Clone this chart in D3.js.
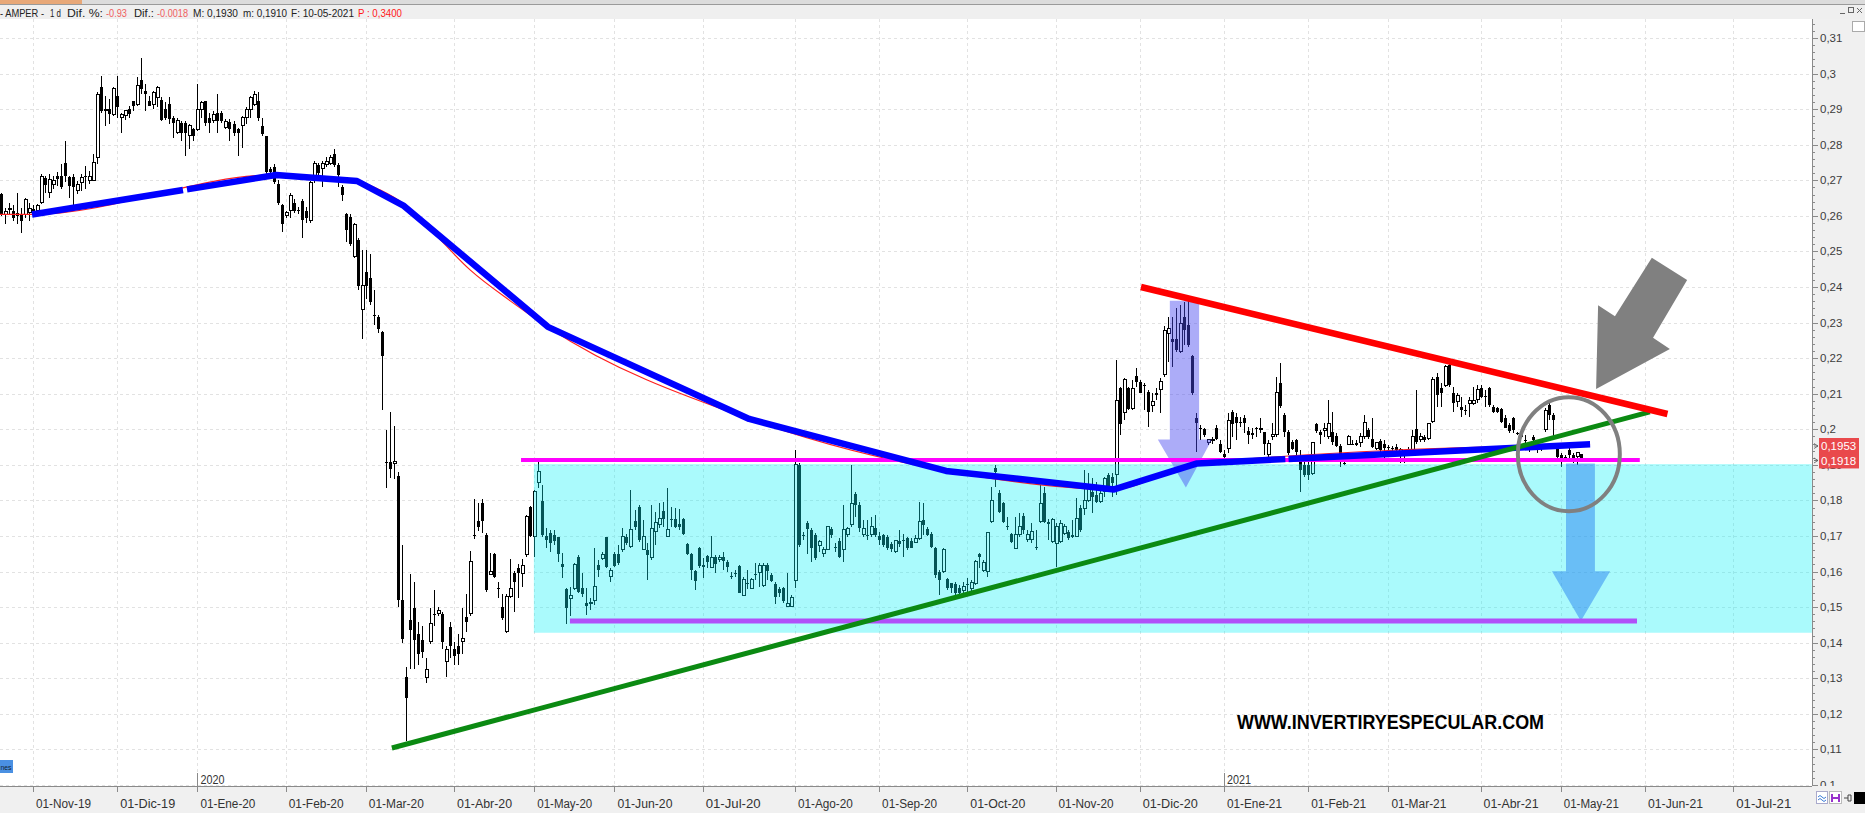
<!DOCTYPE html>
<html><head><meta charset="utf-8">
<script src="https://cdn.jsdelivr.net/npm/d3@7/dist/d3.min.js"></script>
<style>
html,body{margin:0;padding:0;background:#fff;overflow:hidden}
svg{display:block}
</style></head><body>
<svg id="c" width="1865" height="813"></svg>
<script>
// ---------------- DATA ----------------
// trading-day index of the first candle (index 0 = 01-Nov-2019)
const startIndex = -8;
// daily candles [open, high, low, close] for AMPER, one row per trading day
const ohlc = [
[.2661,.2665,.2600,.2605],[.2603,.2622,.2576,.2612],[.2620,.2637,.2605,.2622],[.2614,.2630,.2586,.2595],
[.2609,.2665,.2576,.2600],[.2605,.2622,.2553,.2586],[.2605,.2651,.2595,.2646],[.2610,.2637,.2586,.2620],
[.2620,.2630,.2600,.2615],[.2616,.2632,.2605,.2628],[.2637,.2717,.2632,.2712],[.2706,.2712,.2665,.2686],
[.2665,.2717,.2651,.2703],[.2689,.2712,.2675,.2698],[.2712,.2722,.2684,.2703],[.2712,.2745,.2675,.2680],
[.2750,.2811,.2694,.2712],[.2708,.2712,.2651,.2684],[.2708,.2717,.2628,.2680],[.2670,.2698,.2661,.2689],
[.2694,.2717,.2670,.2708],[.2712,.2740,.2675,.2712],[.2698,.2727,.2689,.2712],[.2698,.2773,.2698,.2750],
[.2764,.2947,.2745,.2942],[.2963,.2994,.2890,.2895],[.2895,.2937,.2853,.2900],[.2900,.2928,.2857,.2886],
[.2886,.2961,.2881,.2958],[.2937,.2994,.2876,.2905],[.2876,.2890,.2834,.2886],[.2881,.2895,.2870,.2895],
[.2900,.2910,.2876,.2886],[.2923,.2923,.2895,.2909],[.2914,.2989,.2909,.2966],[.2981,.3043,.2942,.2956],
[.2952,.2970,.2895,.2942],[.2923,.2937,.2909,.2909],[.2914,.2951,.2900,.2947],[.2933,.2966,.2905,.2961],
[.2925,.2933,.2867,.2869],[.2900,.2920,.2870,.2876],[.2914,.2933,.2857,.2872],[.2876,.2881,.2820,.2862],
[.2834,.2876,.2830,.2867],[.2862,.2867,.2811,.2834],[.2862,.2867,.2769,.2834],[.2825,.2857,.2787,.2853],
[.2844,.2848,.2811,.2825],[.2844,.2970,.2839,.2900],[.2900,.2923,.2876,.2918],[.2923,.2923,.2853,.2860],
[.2876,.2890,.2834,.2862],[.2867,.2895,.2862,.2886],[.2890,.2942,.2834,.2867],[.2890,.2895,.2862,.2867],
[.2848,.2872,.2844,.2865],[.2865,.2872,.2811,.2844],[.2857,.2867,.2825,.2834],[.2844,.2848,.2769,.2834],
[.2853,.2881,.2792,.2876],[.2876,.2905,.2857,.2900],[.2900,.2937,.2876,.2933],[.2914,.2951,.2909,.2942],
[.2923,.2947,.2867,.2876],[.2853,.2876,.2825,.2830],[.2825,.2825,.2717,.2722],[.2731,.2736,.2717,.2722],
[.2736,.2745,.2690,.2695],[.2690,.2700,.2630,.2635],[.2630,.2632,.2555,.2576],[.2600,.2615,.2593,.2609],
[.2615,.2665,.2593,.2658],[.2637,.2648,.2609,.2615],[.2617,.2626,.2604,.2617],[.2643,.2648,.2537,.2587],
[.2615,.2626,.2581,.2593],[.2587,.2698,.2581,.2693],[.2698,.2754,.2693,.2748],[.2743,.2748,.2709,.2720],
[.2732,.2754,.2682,.2748],[.2743,.2765,.2737,.2754],[.2748,.2771,.2743,.2765],[.2773,.2787,.2737,.2743],
[.2743,.2748,.2682,.2715],[.2682,.2687,.2643,.2659],[.2604,.2609,.2526,.2559],[.2598,.2604,.2515,.2520],
[.2487,.2581,.2481,.2576],[.2531,.2537,.2392,.2404],[.2337,.2504,.2253,.2404],[.2442,.2504,.2365,.2404],
[.2426,.2493,.2348,.2359],[.2320,.2392,.2292,.2320],[.2315,.2320,.2270,.2281],[.2273,.2276,.2053,.2206],
[.1909,.1998,.1836,.1909],[.1909,.2048,.1864,.1887],[.1905,.2009,.1859,.1909],[.1870,.1880,.1500,.1520],
[.1520,.1675,.1400,.1410],[.1305,.1331,.1123,.1245],[.1464,.1592,.1325,.1436],[.1497,.1570,.1325,.1408],
[.1425,.1458,.1336,.1369],[.1408,.1447,.1358,.1375],[.1303,.1358,.1286,.1325],[.1403,.1497,.1397,.1453],
[.1481,.1547,.1447,.1481],[.1483,.1500,.1475,.1490],[.1481,.1486,.1381,.1403],[.1347,.1392,.1303,.1381],
[.1445,.1458,.1358,.1392],[.1381,.1403,.1336,.1364],[.1392,.1425,.1336,.1369],[.1403,.1497,.1369,.1412],
[.1472,.1536,.1431,.1458],[.1481,.1659,.1475,.1627],[.1703,.1803,.1692,.1703],[.1742,.1792,.1714,.1725],
[.1794,.1803,.1709,.1742],[.1703,.1709,.1542,.1547],[.1592,.1653,.1592,.1600],[.1650,.1653,.1581,.1586],
[.1553,.1570,.1525,.1553],[.1501,.1536,.1464,.1470],[.1431,.1536,.1427,.1531],[.1531,.1636,.1525,.1553],
[.1597,.1603,.1486,.1572],[.1611,.1620,.1525,.1597],[.1595,.1634,.1557,.1618],[.1647,.1759,.1642,.1754],
[.1781,.1784,.1698,.1700],[.1700,.1829,.1642,.1825],[.1850,.1918,.1834,.1881],[.1799,.1843,.1698,.1703],
[.1700,.1722,.1665,.1689],[.1709,.1717,.1656,.1679],[.1703,.1717,.1675,.1686],[.1698,.1698,.1628,.1649],
[.1620,.1651,.1581,.1614],[.1550,.1553,.1454,.1497],[.1525,.1557,.1475,.1534],[.1553,.1625,.1548,.1621],
[.1642,.1647,.1539,.1543],[.1553,.1595,.1529,.1537],[.1512,.1553,.1478,.1503],[.1509,.1525,.1492,.1512],
[.1520,.1665,.1506,.1559],[.1618,.1633,.1586,.1604],[.1637,.1656,.1633,.1647],[.1698,.1698,.1609,.1614],
[.1587,.1609,.1572,.1604],[.1649,.1656,.1614,.1616],[.1649,.1675,.1618,.1625],[.1661,.1722,.1656,.1700],
[.1698,.1707,.1675,.1681],[.1670,.1829,.1665,.1719],[.1743,.1773,.1717,.1726],[.1781,.1787,.1684,.1689],
[.1663,.1745,.1661,.1698],[.1661,.1679,.1576,.1647],[.1640,.1787,.1633,.1720],[.1712,.1768,.1675,.1738],
[.1731,.1792,.1722,.1750],[.1770,.1796,.1726,.1747],[.1700,.1834,.1698,.1719],[.1747,.1782,.1724,.1747],
[.1747,.1778,.1722,.1726],[.1733,.1775,.1717,.1724],[.1747,.1752,.1703,.1705],[.1677,.1679,.1647,.1649],
[.1649,.1651,.1576,.1604],[.1602,.1604,.1548,.1574],[.1665,.1670,.1609,.1616],[.1618,.1637,.1581,.1614],
[.1644,.1647,.1609,.1627],[.1612,.1700,.1609,.1640],[.1642,.1647,.1595,.1621],[.1633,.1647,.1628,.1640],
[.1642,.1656,.1604,.1631],[.1628,.1633,.1600,.1612],[.1588,.1600,.1579,.1588],[.1595,.1604,.1586,.1595],
[.1616,.1618,.1539,.1541],[.1534,.1586,.1531,.1578],[.1567,.1604,.1550,.1567],[.1553,.1583,.1550,.1578],
[.1593,.1623,.1576,.1593],[.1597,.1623,.1557,.1616],[.1562,.1623,.1557,.1618],[.1618,.1623,.1576,.1602],
[.1590,.1595,.1572,.1574],[.1565,.1572,.1509,.1529],[.1550,.1557,.1529,.1539],[.1553,.1557,.1511,.1518],
[.1501,.1597,.1499,.1511],[.1503,.1534,.1501,.1527],[.1576,.1942,.1553,.1902],[.1900,.1904,.1670,.1675],
[.1703,.1710,.1690,.1700],[.1736,.1741,.1650,.1720],[.1718,.1722,.1626,.1665],[.1703,.1708,.1632,.1638],
[.1672,.1689,.1656,.1684],[.1650,.1670,.1642,.1663],[.1662,.1728,.1661,.1726],[.1719,.1726,.1694,.1703],
[.1670,.1679,.1656,.1670],[.1687,.1693,.1637,.1642],[.1661,.1787,.1628,.1719],[.1703,.1726,.1698,.1722],
[.1731,.1900,.1726,.1792],[.1818,.1825,.1754,.1787],[.1787,.1796,.1712,.1722],[.1703,.1745,.1698,.1722],
[.1703,.1745,.1689,.1703],[.1703,.1754,.1698,.1728],[.1722,.1759,.1698,.1703],[.1700,.1712,.1675,.1689],
[.1703,.1707,.1670,.1675],[.1698,.1703,.1661,.1665],[.1677,.1684,.1656,.1663],[.1656,.1689,.1651,.1687],
[.1687,.1717,.1670,.1677],[.1689,.1707,.1642,.1689],[.1693,.1696,.1661,.1665],[.1687,.1693,.1665,.1666],
[.1681,.1703,.1679,.1693],[.1693,.1796,.1689,.1740],[.1745,.1792,.1703,.1731],[.1719,.1724,.1700,.1703],
[.1707,.1712,.1665,.1670],[.1665,.1670,.1581,.1590],[.1600,.1604,.1534,.1576],[.1600,.1665,.1595,.1661],
[.1578,.1581,.1548,.1553],[.1567,.1567,.1539,.1553],[.1565,.1572,.1534,.1539],[.1553,.1562,.1529,.1539],
[.1548,.1572,.1529,.1557],[.1565,.1581,.1543,.1565],[.1553,.1576,.1543,.1569],[.1567,.1633,.1562,.1628],
[.1649,.1653,.1609,.1640],[.1604,.1633,.1600,.1625],[.1600,.1712,.1586,.1709],[.1740,.1839,.1736,.1801],
[.1890,.1900,.1839,.1881],[.1822,.1829,.1764,.1768],[.1792,.1796,.1736,.1740],[.1728,.1754,.1717,.1728],
[.1705,.1709,.1679,.1684],[.1665,.1754,.1665,.1703],[.1703,.1764,.1698,.1726],[.1756,.1764,.1707,.1717],
[.1691,.1717,.1684,.1703],[.1689,.1736,.1679,.1712],[.1670,.1717,.1661,.1670],[.1740,.1843,.1736,.1790],
[.1822,.1839,.1736,.1740],[.1740,.1747,.1689,.1734],[.1684,.1750,.1681,.1747],[.1679,.1736,.1614,.1726],
[.1684,.1745,.1679,.1736],[.1707,.1733,.1703,.1728],[.1712,.1717,.1689,.1693],[.1703,.1745,.1693,.1698],
[.1700,.1806,.1698,.1750],[.1778,.1787,.1712,.1717],[.1778,.1885,.1759,.1801],[.1801,.1876,.1796,.1839],
[.1825,.1862,.1764,.1811],[.1815,.1853,.1792,.1796],[.1796,.1843,.1792,.1820],[.1825,.1867,.1811,.1862],
[.1872,.1876,.1834,.1839],[.1867,.1876,.1811,.1848],[.1872,.2195,.1815,.2080],[.2115,.2120,.1984,.2015],
[.2047,.2143,.2026,.2141],[.2115,.2120,.2054,.2056],[.2059,.2139,.2054,.2115],[.2150,.2171,.2120,.2134],
[.2134,.2139,.2101,.2103],[.2125,.2129,.2054,.2125],[.2106,.2111,.2007,.2050],[.2068,.2101,.2050,.2078],
[.2101,.2115,.2082,.2096],[.2111,.2143,.2045,.2134],[.2153,.2289,.2148,.2279],[.2270,.2317,.2190,.2284],
[.2253,.2317,.2176,.2246],[.2253,.2340,.2218,.2223],[.2218,.2349,.2215,.2298],[.2317,.2359,.2237,.2279],
[.2293,.2363,.2232,.2237],[.2206,.2209,.2096,.2101],[.2031,.2045,.1937,.2017],[.2003,.2012,.1970,.2003],
[.2000,.2003,.1979,.1984],[.1963,.1974,.1956,.1970],[.1968,.1979,.1960,.1972],[.2003,.2012,.1970,.1974],
[.1960,.1970,.1932,.1937],[.1930,.1942,.1914,.1921],[.1946,.2045,.1932,.2026],[.2050,.2054,.1979,.2015],
[.2035,.2045,.1970,.2017],[.2021,.2035,.2007,.2021],[.2031,.2040,.1989,.2017],[.1996,.2007,.1960,.1984],
[.1989,.2003,.1974,.1984],[.2005,.2007,.1979,.2005],[.2000,.2031,.1989,.2003],[.1991,.1993,.1928,.1960],
[.1928,.1970,.1923,.1960],[.1979,.2017,.1970,.1986],[.1984,.2148,.1979,.2103],[.2131,.2185,.2059,.2066],
[.2040,.2045,.1979,.1993],[.1993,.1998,.1928,.1932],[.1963,.1970,.1942,.1944],[.1970,.1974,.1923,.1937],
[.1909,.1942,.1825,.1886],[.1900,.1909,.1867,.1872],[.1900,.1909,.1857,.1872],[.1876,.1965,.1872,.1962],
[.2015,.2019,.1989,.1996],[.1991,.1998,.1960,.1984],[.1996,.2017,.1979,.2003],[.1979,.2082,.1974,.2015],
[.1991,.2050,.1956,.1963],[.1981,.1989,.1949,.1953],[.1953,.1960,.1895,.1928],[.1906,.1914,.1900,.1906],
[.1958,.1984,.1956,.1979],[.1960,.1970,.1956,.1960],[.1962,.1970,.1953,.1956],[.1962,.1989,.1951,.1979],
[.1979,.2040,.1974,.2019],[.1998,.2003,.1974,.1979],[.1972,.2031,.1946,.1951],[.1946,.1965,.1942,.1962],
[.1968,.1972,.1937,.1942],[.1960,.1970,.1918,.1946],[.1950,.1956,.1928,.1946],[.1946,.1953,.1937,.1946],
[.1949,.1960,.1928,.1942],[.1928,.1946,.1904,.1942],[.1932,.1942,.1904,.1932],[.1935,.1950,.1925,.1940],
[.1937,.1998,.1932,.1979],[.2000,.2110,.1960,.1965],[.1970,.1989,.1965,.1979],[.1979,.1984,.1965,.1970],
[.1975,.2019,.1970,.2017],[.2021,.2148,.2017,.2140],[.2148,.2157,.2064,.2096],[.2115,.2129,.2064,.2101],
[.2124,.2181,.2120,.2176],[.2181,.2185,.2120,.2124],[.2101,.2120,.2050,.2073],[.2078,.2101,.2064,.2096],
[.2064,.2092,.2035,.2054],[.2054,.2068,.2040,.2054],[.2073,.2092,.2035,.2082],[.2073,.2120,.2068,.2082],
[.2084,.2124,.2073,.2112],[.2115,.2124,.2087,.2092],[.2094,.2110,.2064,.2094],[.2115,.2120,.2064,.2068],
[.2064,.2068,.2045,.2050],[.2059,.2064,.2045,.2050],[.2056,.2059,.2017,.2021],[.2033,.2040,.2003,.2005],
[.2012,.2017,.1989,.1996],[.2031,.2035,.1989,.1998],[.1989,.1993,.1984,.1989],[.1984,.1989,.1975,.1979],
[.1970,.1984,.1942,.1970],[.1942,.1965,.1935,.1960],[.1979,.1984,.1960,.1970],[.1951,.1960,.1932,.1951],
[.1946,.1960,.1940,.1956],[.1998,.2059,.1993,.2054],[.2068,.2073,.2026,.2040],[.2040,.2045,.1979,.2026],
[.1946,.1951,.1918,.1923],[.1928,.1932,.1895,.1918],[.1923,.1928,.1914,.1923],[.1942,.1946,.1918,.1928],
[.1928,.1932,.1904,.1918],[.1923,.1937,.1900,.1936],[.1930,.1930,.1910,.1918]
];

// month axis: trading-day index of the first session of each month, and its label
const monthTickIndex = [0,21,41,63,83,105,125,145,167,190,211,233,255,276,297,318,338,361,381,402,424];
const monthLabels = ["01-Nov-19","01-Dic-19","01-Ene-20","01-Feb-20","01-Mar-20","01-Abr-20","01-May-20",
  "01-Jun-20","01-Jul-20","01-Ago-20","01-Sep-20","01-Oct-20","01-Nov-20","01-Dic-20","01-Ene-21",
  "01-Feb-21","01-Mar-21","01-Abr-21","01-May-21","01-Jun-21","01-Jul-21"];
const yearTickIndex = [41, 297];
const yearLabels = ["2020","2021"];

// price axis
const priceTickValues = [0.10,0.11,0.12,0.13,0.14,0.15,0.16,0.17,0.18,0.19,0.20,0.21,0.22,0.23,0.24,0.25,0.26,0.27,0.28,0.29,0.30,0.31];
const priceTickLabels = ["0,1","0,11","0,12","0,13","0,14","0,15","0,16","0,17","0,18","0,19","0,2","0,21","0,22","0,23","0,24","0,25","0,26","0,27","0,28","0,29","0,3","0,31"];

// last values shown on the price axis
const lastValues = [0.1953, 0.1918];
const lastLabels = ["0,1953", "0,1918"];

// header text pieces
const headerParts = ["- AMPER -", "1 d", "Dif. %:", "-0.93", "Dif.:", "-0.0018", "M: 0,1930", "m: 0,1910", "F: 10-05-2021", "P : 0,3400"];

// drawn studies, as [trading-day index, price]
const blueLine = [[-0.25,.2604],[60.6,.2715],[80.8,.2698],[92.5,.2628],[128.4,.2288],[178.6,.2029],
                  [227.7,.1883],[269.6,.1831],[290.3,.1904],[388.3,.1958]];
const blueGaps = [[37.4,38.4],[312.3,313.1]];
const maLine = [[-8.3,.2604],[-0.25,.2604],[60.6,.2715],[80.8,.2698],[86.5,.2673],[92.5,.2633],[99.0,.2563],
                [109.0,.2448],[119.0,.2361],[128.7,.2285],[178.6,.2029],[227.7,.1883],[269.6,.1831],[290.3,.1904],[388.3,.1958]];
const redTrend = [[276.3,.2400],[407.6,.2043]];
const greenTrend = [[89.5,.1104],[403.2,.2049]];
const magentaLine = [[121.7,.1914],[400.7,.1914]];
const violetLine = [[133.9,.1461],[400.0,.1461]];
const cyanZone = [[124.9,.1902],[443.6,.1428]];
const arrowLeft = [[283.5,.2361],[290.8,.2361],[290.8,.1971],[294.0,.1971],[287.5,.1836],[280.5,.1971],[283.5,.1971]];
const arrowRight = [[382.3,.1904],[389.5,.1904],[389.5,.1601],[393.3,.1601],[386.0,.1461],[378.8,.1601],[382.3,.1601]];
const greyArrow = [[389.8,.2113],[408.2,.2226],[404.0,.2257],[412.5,.2420],[403.7,.2482],[394.5,.2318],[390.3,.2349]];
const circleCenter = [383.0, .1930];

// ---------------- DRAW ----------------
const W = 1865, H = 813;
const plotL = 0, plotR = 1812, plotT = 19, plotB = 786;
const svg = d3.select("#c");
const x = d3.scaleLinear().domain([-33/4.01, (plotR-33)/4.01]).range([0, plotR]);
const y = d3.scaleLinear().domain([0.10, 0.31]).range([785, 38]);
const SANS = "'Liberation Sans',Arial,sans-serif";
const NARROW = "'Liberation Sans Narrow','Liberation Sans',Arial,sans-serif";

svg.append("rect").attr("width", W).attr("height", H).attr("fill", "#fff");
const defs = svg.append("defs");
defs.append("clipPath").attr("id","pc").append("rect")
  .attr("x", plotL).attr("y", plotT).attr("width", plotR-plotL).attr("height", plotB-plotT);
const plot = svg.append("g").attr("clip-path","url(#pc)");

// grid
const grid = plot.append("g").attr("stroke","#e2e2e2").attr("stroke-dasharray","3,3").attr("shape-rendering","crispEdges");
grid.selectAll("line.h").data(priceTickValues).join("line")
  .attr("x1", 0).attr("x2", plotR).attr("y1", d=>Math.round(y(d))+0.5).attr("y2", d=>Math.round(y(d))+0.5);
grid.selectAll("line.v").data(monthTickIndex).join("line")
  .attr("y1", plotT).attr("y2", plotB).attr("x1", d=>Math.round(x(d))+0.5).attr("x2", d=>Math.round(x(d))+0.5);

// candles
const candles = ohlc.map((r,k)=>({i:startIndex+k, o:r[0], h:r[1], l:r[2], c:r[3]}));
const cg = plot.append("g").attr("shape-rendering","crispEdges");
cg.selectAll("line").data(candles).join("line")
  .attr("x1", d=>Math.round(x(d.i))+0.5).attr("x2", d=>Math.round(x(d.i))+0.5)
  .attr("y1", d=>y(d.h)).attr("y2", d=>y(d.l)).attr("stroke","#000").attr("stroke-width",1);
cg.selectAll("rect").data(candles).join("rect")
  .attr("x", d=>Math.round(x(d.i))-1)
  .attr("width", 3)
  .attr("y", d=>y(Math.max(d.o,d.c)))
  .attr("height", d=>Math.max(1, Math.abs(y(d.o)-y(d.c))))
  .attr("fill", d=>d.c>d.o ? "#fff" : "#000")
  .attr("stroke", d=>d.c>d.o ? "#000" : "none")
  .attr("stroke-width", 1);

// cyan zone (translucent over the candles)
plot.append("rect")
  .attr("x", x(cyanZone[0][0])).attr("y", y(cyanZone[0][1]))
  .attr("width", x(cyanZone[1][0]) - x(cyanZone[0][0]))
  .attr("height", y(cyanZone[1][1]) - y(cyanZone[0][1]))
  .attr("fill", "rgb(12,240,246)").attr("fill-opacity", 0.35);

const pt = d => [x(d[0]), y(d[1])];
const lineGen = d3.line().x(d=>x(d[0])).y(d=>y(d[1]));

// translucent down arrows
plot.append("polygon").attr("points", arrowLeft.map(pt).join(" ")).attr("fill","rgb(70,70,240)").attr("fill-opacity",0.45);
plot.append("polygon").attr("points", arrowRight.map(pt).join(" ")).attr("fill","rgb(40,130,240)").attr("fill-opacity",0.5);

// thin moving average
plot.append("path").attr("d", d3.line().x(d=>x(d[0])).y(d=>y(d[1])).curve(d3.curveMonotoneX)(maLine)).attr("fill","none")
  .attr("stroke","#ff2020").attr("stroke-width",1.2);

// horizontal levels
plot.append("path").attr("d", lineGen(magentaLine)).attr("stroke","#ff00ff").attr("stroke-width",4).attr("fill","none");
plot.append("path").attr("d", lineGen(violetLine)).attr("stroke","#b050f8").attr("stroke-width",5).attr("fill","none");

// blue thick line, split at its gaps
function slicePath(pts, a, b) {
  const out = [];
  const at = t => { for (let k=0;k<pts.length-1;k++){ const p=pts[k], q=pts[k+1];
      if (t>=p[0] && t<=q[0]) { const f=(t-p[0])/(q[0]-p[0]); return [t, p[1]+f*(q[1]-p[1])]; } }
      return t<pts[0][0]?pts[0]:pts[pts.length-1]; };
  out.push(at(a));
  pts.forEach(p=>{ if (p[0]>a && p[0]<b) out.push(p); });
  out.push(at(b));
  return out;
}
const bStart = blueLine[0][0], bEnd = blueLine[blueLine.length-1][0];
const cuts = [bStart].concat(blueGaps.flat()).concat([bEnd]);
for (let k=0;k<cuts.length;k+=2) {
  plot.append("path").attr("d", lineGen(slicePath(blueLine, cuts[k], cuts[k+1])))
    .attr("fill","none").attr("stroke","#0000ff").attr("stroke-width",6.5).attr("stroke-linejoin","round");
}

// trend lines
plot.append("path").attr("d", lineGen(greenTrend)).attr("stroke","#0b8a12").attr("stroke-width",5).attr("fill","none");
plot.append("path").attr("d", lineGen(redTrend)).attr("stroke","#ff0000").attr("stroke-width",6.5).attr("fill","none");

// grey circle and grey arrow
plot.append("ellipse").attr("cx", x(circleCenter[0])).attr("cy", y(circleCenter[1]))
  .attr("rx", 51).attr("ry", 57).attr("fill","none").attr("stroke","#808080").attr("stroke-width",4);
plot.append("polygon").attr("points", greyArrow.map(pt).join(" ")).attr("fill","#808080");

// watermark
svg.append("text").attr("x", 1237).attr("y", 729).text("WWW.INVERTIRYESPECULAR.COM")
  .attr("font-family", NARROW).attr("font-weight","bold")
  .attr("font-size", 20).attr("textLength", 307).attr("lengthAdjust","spacingAndGlyphs").attr("fill","#000");

// ---------------- AXES / FRAME ----------------
// right price axis
svg.append("rect").attr("x", plotR).attr("y", 5).attr("width", W-plotR).attr("height", H-5).attr("fill","#f0f0f0");
const ra = svg.append("g").attr("shape-rendering","crispEdges");
ra.append("line").attr("x1", plotR+0.5).attr("x2", plotR+0.5).attr("y1", plotT).attr("y2", plotB).attr("stroke","#8a8a8a");
const minor = d3.range(100, 316, 2).map(v=>v/1000);
ra.selectAll("line.mi").data(minor).join("line").attr("class","mi")
  .attr("x1", plotR).attr("x2", plotR+3).attr("y1", d=>Math.round(y(d))+0.5).attr("y2", d=>Math.round(y(d))+0.5)
  .attr("stroke","#8a8a8a");
ra.selectAll("line.ma").data(priceTickValues).join("line").attr("class","ma")
  .attr("x1", plotR).attr("x2", plotR+6).attr("y1", d=>Math.round(y(d))+0.5).attr("y2", d=>Math.round(y(d))+0.5)
  .attr("stroke","#8a8a8a");
svg.append("g").selectAll("text").data(priceTickValues).join("text")
  .attr("x", plotR+8).attr("y", d=>y(d)).attr("dy","0.35em")
  .attr("font-family", SANS).attr("font-size", 11.5).attr("fill","#3c3c3c")
  .text((d,k)=>priceTickLabels[k]);

// last value boxes (the later one covers the lower half of the earlier one)
lastValues.forEach((v,k)=>{
  const cy = y(v) + (k ? 2 : 0);
  svg.append("rect").attr("x", plotR+7).attr("y", cy-8).attr("width", 40).attr("height", 16).attr("fill","#e9494c");
  svg.append("text").attr("x", plotR+9).attr("y", cy).attr("dy","0.36em").attr("font-size", 11.5)
    .attr("font-family", SANS).attr("fill","#fff").text(lastLabels[k]);
  svg.append("path").attr("d", `M${plotR+6},${cy} l-4,-2.5 M${plotR+6},${cy} l-4,2.5 M${plotR+2},${cy} h4`)
    .attr("stroke","#555").attr("fill","none").attr("stroke-width",0.8);
});

// bottom date axis
svg.append("rect").attr("x", 0).attr("y", plotB).attr("width", W).attr("height", H-plotB).attr("fill","#f0f0f0");
const ba = svg.append("g").attr("shape-rendering","crispEdges");
ba.append("line").attr("x1", 0).attr("x2", plotR).attr("y1", plotB+0.5).attr("y2", plotB+0.5).attr("stroke","#8a8a8a");
ba.selectAll("line.t").data(monthTickIndex).join("line")
  .attr("x1", d=>Math.round(x(d))+0.5).attr("x2", d=>Math.round(x(d))+0.5)
  .attr("y1", plotB).attr("y2", plotB+6).attr("stroke","#8a8a8a");
ba.selectAll("line.y").data(yearTickIndex).join("line")
  .attr("x1", d=>Math.round(x(d))+0.5).attr("x2", d=>Math.round(x(d))+0.5)
  .attr("y1", plotB-13).attr("y2", plotB).attr("stroke","#8a8a8a");
svg.append("g").selectAll("text").data(monthTickIndex).join("text")
  .attr("x", d=>x(d)+3).attr("y", 808)
  .attr("font-family", NARROW).attr("font-size", 12.5)
  .attr("textLength", 55).attr("lengthAdjust","spacingAndGlyphs").attr("fill","#333")
  .text((d,k)=>monthLabels[k]);
svg.append("g").selectAll("text").data(yearTickIndex).join("text")
  .attr("x", d=>x(d)+3).attr("y", 784)
  .attr("font-family", NARROW).attr("font-size", 12)
  .attr("textLength", 24).attr("lengthAdjust","spacingAndGlyphs").attr("fill","#333")
  .text((d,k)=>yearLabels[k]);

// bottom-right tool icons
const ic = svg.append("g");
ic.append("rect").attr("x",1816.5).attr("y",791.5).attr("width",11).attr("height",12).attr("fill","#fff").attr("stroke","#aac");
ic.append("path").attr("d","M1818,797 q2,-3 4,0 t4,0 M1818,800 q2,-3 4,0 t4,0").attr("stroke","#3a7bd5").attr("fill","none");
ic.append("rect").attr("x",1829.5).attr("y",791.5).attr("width",12).attr("height",12).attr("fill","#fff").attr("stroke","#bbb");
ic.append("path").attr("d","M1832,794 v8 M1839,794 v8 M1832,798 h7").attr("stroke","#9933cc").attr("stroke-width",2).attr("fill","none");
ic.append("path").attr("d","M1844,798 h4 M1848,795 v6 h3 v-6 z").attr("stroke","#444").attr("fill","none");
ic.append("rect").attr("x",1854).attr("y",792).attr("width",11).attr("height",12).attr("fill","#000");

// bottom-left tab
svg.append("rect").attr("x",0).attr("y",760).attr("width",13).attr("height",13).attr("fill","#4a90e2");
svg.append("text").attr("x",0.5).attr("y",769.5).attr("font-size",7).attr("fill","#123")
  .attr("font-family", SANS).attr("textLength",11).attr("lengthAdjust","spacingAndGlyphs").text("nes");

// header
svg.append("rect").attr("x",0).attr("y",0).attr("width",W).attr("height",5).attr("fill","#dcdcdc");
svg.append("rect").attr("x",0).attr("y",0).attr("width",82).attr("height",4).attr("fill","#e8a878");
svg.append("rect").attr("x",0).attr("y",5).attr("width",W).attr("height",14).attr("fill","#efefef");
svg.append("line").attr("x1",0).attr("x2",W).attr("y1",4.5).attr("y2",4.5).attr("stroke","#9a9a9a");
const headerX = [0, 50, 67, 106, 134, 157, 193, 243, 291, 358];
const headerW = [44, 11, 36, 21, 20, 31, 45, 44, 63, 44];
const headerColor = ["#222","#222","#222","#f06060","#222","#f06060","#222","#222","#222","#ff1a1a"];
svg.append("g").selectAll("text").data(headerParts).join("text")
  .attr("x",(d,k)=>headerX[k]).attr("y",16.5).attr("font-size",10.5).attr("font-family", SANS)
  .attr("fill",(d,k)=>headerColor[k]).attr("textLength",(d,k)=>headerW[k]).attr("lengthAdjust","spacingAndGlyphs")
  .text(d=>d);
// window controls
const wc = svg.append("g").attr("stroke","#666").attr("fill","none").attr("stroke-width",1);
wc.append("path").attr("d","M1840,13.5 h5");
wc.append("rect").attr("x",1848.5).attr("y",7.5).attr("width",5).attr("height",5);
wc.append("path").attr("d","M1857,8 l5,5 M1862,8 l-5,5");
svg.append("rect").attr("x",1852.5).attr("y",21.5).attr("width",12).attr("height",10).attr("fill","#fff").attr("stroke","#aaa");
</script>
</body></html>
